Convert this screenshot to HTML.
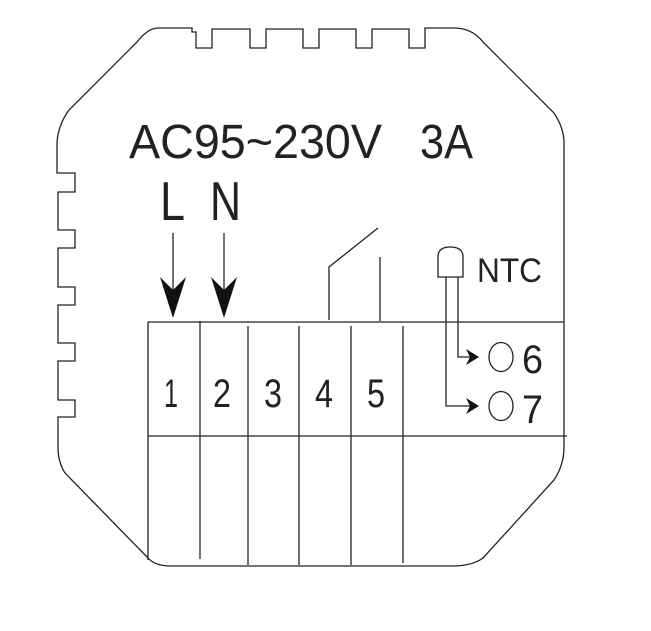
<!DOCTYPE html>
<html><head><style>html,body{margin:0;padding:0;background:#fff}svg{display:block}</style></head>
<body>
<svg width="651" height="631" viewBox="0 0 651 631" xmlns="http://www.w3.org/2000/svg" font-family="Liberation Sans, sans-serif">
<g fill="none" stroke="#222" stroke-width="1.3">
<path d="M192,28 L192,32 L196,32 L196,48 L212,48 L212,29 L250,29 L250,48 L266,48 L266,29 L303,29 L303,48 L319,48 L319,29 L356,29 L356,48 L372,48 L372,29 L409,29 L409,48 L425,48 L425,28 L454,28 Q472,28 483,42 L554,113 Q564,128 564,143 L564,447 Q564,465 554,480 L483,558 Q472,566 452,566 L171,566 Q155,566 148,558 L65,473 Q58,462 58,447 L58,417 L75,417 L75,400 L58,400 L58,361 L75,361 L75,343 L58,343 L58,305 L75,305 L75,287 L58,287 L58,248 L75,248 L75,230 L58,230 L58,192 L75,192 L75,173 L57,173 L57,143 Q58,125 69,110 L137,42 Q148,28 158,28 Z"/>
<line x1="148" y1="322" x2="564" y2="322"/>
<line x1="148" y1="436" x2="567" y2="436"/>
<line x1="148" y1="322" x2="148" y2="560"/>
<line x1="200" y1="321" x2="200" y2="559"/>
<line x1="248" y1="326" x2="248" y2="565"/>
<line x1="299" y1="326" x2="299" y2="565"/>
<line x1="351" y1="326" x2="351" y2="565"/>
<line x1="403" y1="326" x2="403" y2="563"/>
<line x1="173" y1="233" x2="173" y2="290"/>
<line x1="224" y1="233" x2="224" y2="290"/>
<polyline points="329,320 329,267 378,228"/>
<line x1="380" y1="257" x2="380" y2="321"/>
<path d="M438,277 L438,257 Q438,247 450,247 Q463,247 463,257 L463,277 Z"/>
<polyline points="458,277 458,357 470,357"/>
<polyline points="446,277 446,406 470,406"/>
<ellipse cx="501" cy="357" rx="12" ry="14.5"/>
<ellipse cx="501" cy="406" rx="12" ry="14.5"/>
</g>
<g fill="#111">
<path d="M160,277 L173,318 L186,277 L173,290 Z"/>
<path d="M211,277 L224,318 L237,277 L224,290 Z"/>
<path d="M466,349 L479,357 L466,365 L470,357 Z"/>
<path d="M466,398 L479,406 L466,414 L470,406 Z"/>
</g>
<g fill="#222">
<text x="129" y="158" font-size="48" textLength="253" lengthAdjust="spacingAndGlyphs">AC95~230V</text>
<text x="420" y="158" font-size="48" textLength="53" lengthAdjust="spacingAndGlyphs">3A</text>
<text x="160" y="220" font-size="55" textLength="25" lengthAdjust="spacingAndGlyphs">L</text>
<text x="210" y="220" font-size="55" textLength="31" lengthAdjust="spacingAndGlyphs">N</text>
<g font-size="40">
<text x="164" y="407" textLength="14" lengthAdjust="spacingAndGlyphs">1</text>
<text x="213" y="407" textLength="18" lengthAdjust="spacingAndGlyphs">2</text>
<text x="264" y="407" textLength="18" lengthAdjust="spacingAndGlyphs">3</text>
<text x="315" y="407" textLength="18" lengthAdjust="spacingAndGlyphs">4</text>
<text x="367" y="407" textLength="18" lengthAdjust="spacingAndGlyphs">5</text>
</g>
<text x="477" y="282" font-size="34" textLength="65" lengthAdjust="spacingAndGlyphs">NTC</text>
<text x="522" y="373" font-size="40" textLength="21" lengthAdjust="spacingAndGlyphs">6</text>
<text x="522" y="423" font-size="40" textLength="21" lengthAdjust="spacingAndGlyphs">7</text>
</g>
</svg>
</body></html>
